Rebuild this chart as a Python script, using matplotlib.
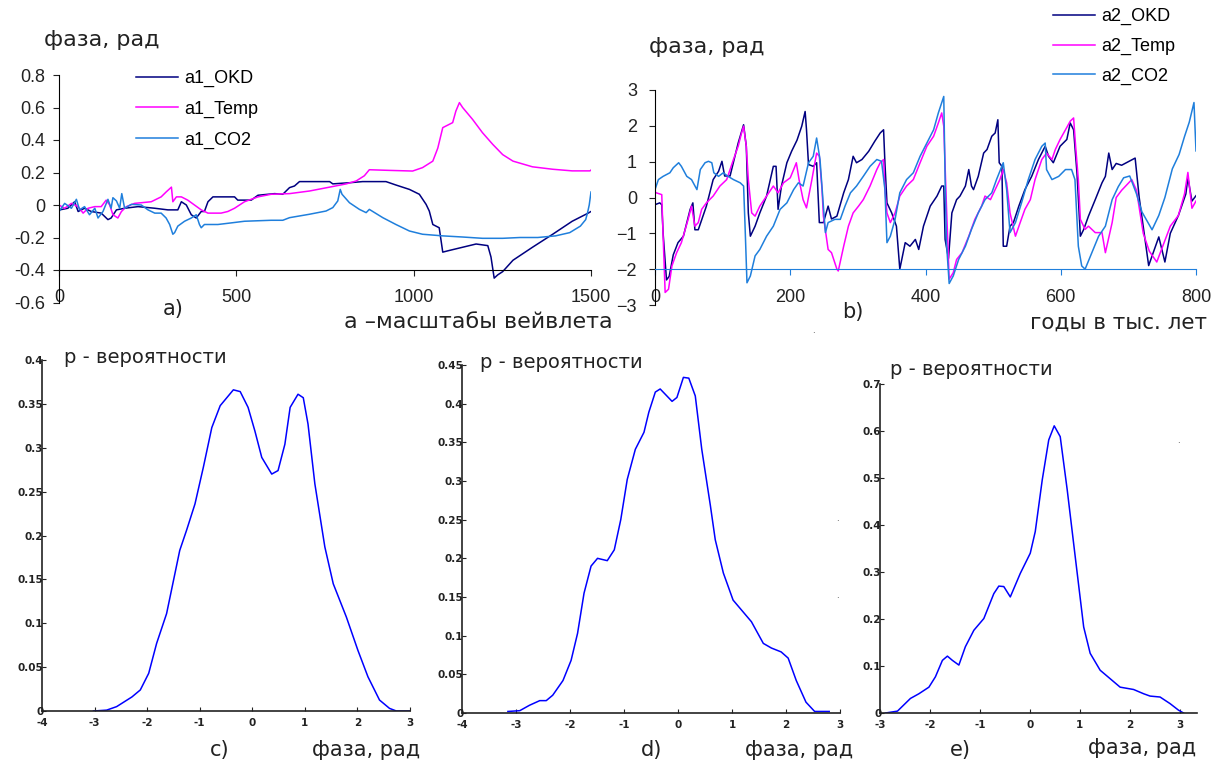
import matplotlib
matplotlib.use("Agg")
import matplotlib.pyplot as plt

# ---- panel a: phase vs wavelet scale ----
a_okd_x = [0, 2, 25, 44, 54, 72, 91, 119, 138, 147, 162, 185, 223, 270, 307, 335, 345, 359, 373, 387,
           401, 410, 420, 434, 495, 504, 542, 561, 608, 631, 650, 664, 678, 763, 772, 819, 856, 922, 950,
           988, 1016, 1035, 1044, 1054, 1072, 1082, 1100, 1138, 1176, 1209, 1218, 1227, 1237, 1251, 1280,
           1335, 1392, 1447, 1492, 1500]
a_okd_y = [-0.03, -0.03, -0.02, 0.02, -0.04, -0.02, -0.04, -0.05, -0.09, -0.08, -0.03, -0.02, -0.01, -0.02,
           -0.03, -0.03, 0.02, 0.0, -0.06, -0.08, -0.04, -0.04, 0.02, 0.05, 0.05, 0.03, 0.03, 0.06, 0.07,
           0.066, 0.107, 0.117, 0.144, 0.144, 0.13, 0.137, 0.144, 0.144, 0.123, 0.096, 0.066, 0.004, -0.037,
           -0.12, -0.14, -0.29, -0.28, -0.26, -0.24, -0.25, -0.32, -0.45, -0.43, -0.41, -0.34, -0.26, -0.18,
           -0.1, -0.05, -0.04]

a_temp_x = [0, 16, 35, 54, 68, 82, 101, 119, 133, 143, 152, 166, 176, 190, 213, 260, 288, 302, 312, 317,
            321, 331, 345, 363, 382, 401, 420, 457, 476, 495, 523, 561, 598, 650, 706, 763, 810, 838, 861,
            875, 932, 997, 1025, 1054, 1068, 1082, 1091, 1110, 1119, 1129, 1138, 1166, 1194, 1223, 1251,
            1280, 1335, 1392, 1447, 1497, 1500]
a_temp_y = [0.0, -0.02, 0.01, -0.01, -0.05, -0.02, -0.01, -0.01, 0.03, 0.0, -0.06, -0.08, -0.04, -0.01,
            0.01, 0.02, 0.05, 0.08, 0.10, 0.11, 0.02, 0.05, 0.05, 0.03, 0.0, -0.03, -0.05, -0.05, -0.04,
            -0.02, 0.02, 0.05, 0.066, 0.07, 0.086, 0.11, 0.13, 0.148, 0.18, 0.217, 0.213, 0.209, 0.23, 0.27,
            0.35, 0.476, 0.486, 0.507, 0.578, 0.63, 0.6, 0.527, 0.445, 0.373, 0.31, 0.27, 0.235, 0.22,
            0.21, 0.21, 0.215]

a_co2_x = [0, 16, 35, 49, 58, 72, 86, 101, 110, 124, 138, 147, 152, 162, 171, 177, 185, 204, 232, 251,
           270, 288, 302, 312, 321, 326, 335, 354, 373, 387, 396, 401, 410, 448, 486, 523, 598, 631, 650,
           706, 753, 772, 786, 793, 798, 819, 847, 866, 875, 913, 950, 988, 1025, 1082, 1138, 1194, 1251,
           1300, 1350, 1400, 1440, 1470, 1485, 1490, 1495, 1500]
a_co2_y = [-0.04, 0.01, -0.02, 0.035, -0.03, -0.01, -0.06, -0.02, -0.08, -0.04, 0.035, -0.02, 0.045, 0.025,
           -0.02, 0.07, -0.02, 0.004, 0.0, -0.03, -0.05, -0.05, -0.08, -0.12, -0.18, -0.17, -0.13, -0.1,
           -0.08, -0.06, -0.12, -0.14, -0.12, -0.12, -0.11, -0.1, -0.094, -0.094, -0.078, -0.057, -0.037,
           -0.016, 0.025, 0.096, 0.066, 0.014, -0.027, -0.047, -0.027, -0.078, -0.12, -0.16, -0.18, -0.19,
           -0.197, -0.205, -0.205, -0.2, -0.2, -0.19, -0.17, -0.13, -0.09, -0.05, 0.0, 0.08]

# ---- panel b: phase vs time (thousand years) ----
b_okd_x = [0, 7, 10, 12, 17, 21, 27, 34, 42, 52, 56, 59, 64, 76, 86, 94, 99, 103, 111, 123, 131, 135, 138,
           141, 148, 155, 165, 175, 179, 182, 187, 195, 202, 210, 217, 222, 224, 227, 234, 239, 243, 249,
           256, 261, 269, 279, 286, 293, 298, 306, 316, 325, 333, 338, 340, 343, 350, 357, 362, 370, 377,
           385, 390, 397, 407, 417, 424, 427, 429, 434, 439, 446, 451, 459, 464, 468, 471, 478, 486, 491,
           498, 503, 507, 509, 513, 515, 520, 525, 530, 538, 547, 557, 567, 577, 582, 589, 599, 609, 614,
           619, 624, 629, 634, 641, 651, 661, 666, 671, 676, 682, 690, 700, 710, 716, 730, 745, 754, 762,
           774, 785, 788, 794, 800]
b_okd_y = [-0.2, -0.15, -0.2, -1.0, -2.3, -2.2, -1.6, -1.26, -1.08, -0.33, -0.15, -0.9, -0.9, -0.24, 0.5,
           0.73, 1.01, 0.6, 0.6, 1.52, 2.03, 1.43, -0.43, -1.08, -0.8, -0.43, 0.04, 0.87, 0.87, -0.33, 0.32,
           0.97, 1.29, 1.6, 1.99, 2.4, 1.9, 0.92, 0.87, 0.97, -0.7, -0.7, -0.24, -0.6, -0.52, 0.13, 0.5,
           1.15, 0.97, 1.06, 1.29, 1.57, 1.8, 1.89, 0.97, -0.15, -0.43, -0.8, -2.0, -1.26, -1.36, -1.17,
           -1.45, -0.8, -0.24, 0.04, 0.32, 0.32, -1.17, -1.7, -0.43, -0.06, 0.04, 0.32, 0.78, 0.32, 0.22,
           0.59, 1.24, 1.34, 1.71, 1.8, 2.17, 0.97, 0.87, -1.36, -1.36, -0.8, -0.7, -0.24, 0.22, 0.59, 1.06,
           1.43, 1.15, 0.97, 1.43, 1.62, 2.08, 1.89, 0.68, -1.08, -0.89, -0.52, -0.06, 0.41, 0.59, 1.24,
           0.78, 0.95, 0.9, 1.0, 1.1, 0.0, -1.9, -1.1, -1.8, -1.0, -0.5, 0.1, 0.55, -0.1, 0.05]

b_temp_x = [0, 2, 10, 12, 15, 20, 25, 32, 39, 49, 54, 59, 64, 69, 76, 86, 96, 106, 116, 123, 128, 131, 135,
            138, 143, 148, 155, 165, 175, 182, 190, 200, 205, 209, 213, 219, 224, 232, 239, 243, 247, 249,
            256, 261, 269, 271, 279, 286, 293, 301, 308, 318, 328, 333, 338, 340, 343, 348, 355, 362, 372,
            382, 392, 402, 412, 419, 424, 427, 431, 435, 441, 446, 454, 464, 473, 483, 488, 496, 503, 510,
            515, 520, 525, 533, 540, 547, 555, 562, 572, 579, 587, 592, 599, 607, 614, 619, 622, 626, 629,
            636, 641, 651, 661, 666, 676, 682, 690, 705, 712, 722, 731, 742, 754, 762, 774, 783, 788, 794,
            800]
b_temp_y = [0.15, 0.13, 0.08, -1.08, -2.65, -2.56, -1.91, -1.54, -1.26, -0.61, -0.24, -0.8, -0.7, -0.33,
            -0.15, 0.04, 0.32, 0.5, 1.06, 1.43, 1.8, 1.99, 1.43, 0.5, -0.43, -0.52, -0.24, 0.04, 0.32, 0.13,
            0.41, 0.55, 0.78, 0.97, 0.5, -0.06, -0.29, 0.5, 1.24, 1.15, 0.22, -0.52, -1.45, -1.54, -2.0,
            -2.05, -1.36, -0.8, -0.43, -0.24, -0.06, 0.32, 0.78, 0.97, 1.06, 0.22, -0.43, -0.7, -0.43, 0.04,
            0.32, 0.5, 0.97, 1.43, 1.71, 2.08, 2.36, 1.99, -0.24, -2.28, -2.1, -1.73, -1.54, -1.08, -0.61,
            -0.24, 0.04, -0.06, 0.22, 0.5, 0.78, 0.41, -0.43, -1.08, -0.7, -0.33, -0.06, 0.5, 1.06, 1.24,
            1.06, 1.34, 1.62, 1.89, 2.13, 2.22, 1.43, 0.5, -0.61, -0.89, -0.8, -0.98, -0.98, -1.54, -0.7,
            0.0, 0.2, 0.5, 0.2, -1.0, -1.5, -1.8, -1.2, -0.8, -0.5, 0.1, 0.7, -0.3, -0.1]

b_co2_x = [0, 5, 12, 22, 27, 35, 39, 47, 54, 62, 67, 74, 79, 84, 87, 94, 101, 108, 116, 126, 131, 133, 136,
           141, 148, 155, 165, 175, 185, 195, 205, 212, 219, 227, 234, 239, 244, 249, 252, 256, 266, 274,
           281, 289, 298, 308, 318, 328, 335, 340, 343, 348, 355, 362, 372, 382, 392, 402, 412, 419, 427,
           429, 431, 435, 441, 449, 459, 468, 478, 488, 498, 505, 515, 520, 525, 533, 542, 552, 562, 572,
           577, 579, 587, 597, 607, 616, 621, 626, 631, 636, 646, 656, 666, 676, 685, 693, 702, 712, 720,
           735, 745, 754, 765, 775, 783, 790, 797, 800]
b_co2_y = [0.22, 0.5, 0.59, 0.69, 0.83, 0.97, 0.87, 0.59, 0.5, 0.22, 0.78, 0.97, 1.01, 0.97, 0.69, 0.59,
           0.69, 0.59, 0.5, 0.41, 0.32, -0.7, -2.38, -2.19, -1.63, -1.45, -1.08, -0.8, -0.33, -0.15, 0.22,
           0.41, 0.32, 0.97, 1.15, 1.66, 1.06, -0.24, -0.98, -0.7, -0.61, -0.61, -0.24, 0.13, 0.32, 0.59,
           0.87, 1.06, 1.01, 0.22, -1.26, -1.08, -0.61, 0.13, 0.5, 0.69, 1.15, 1.52, 1.89, 2.36, 2.82, 0.5,
           -1.26, -2.4, -2.19, -1.73, -1.36, -0.89, -0.43, -0.06, 0.13, 0.5, 0.97, 0.22, -0.98, -0.7, -0.15,
           0.5, 1.06, 1.43, 1.52, 0.78, 0.5, 0.59, 0.78, 0.78, 0.5, -1.36, -1.91, -2.0, -1.54, -1.08, -0.8,
           -0.06, 0.3, 0.55, 0.6, 0.1, -0.4, -0.9, -0.5, 0.0, 0.8, 1.2, 1.7, 2.1, 2.65, 1.3]

# ---- panels c, d, e: probability density of phase ----
c_x = [-3.02, -2.77, -2.58, -2.29, -2.13, -1.97, -1.82, -1.63, -1.38, -1.25, -1.09, -0.93, -0.77, -0.61,
       -0.36, -0.23, -0.08, 0.05, 0.18, 0.37, 0.49, 0.62, 0.72, 0.87, 0.97, 1.06, 1.19, 1.38, 1.54, 1.79,
       2.01, 2.2, 2.42, 2.61, 2.74, 2.99]
c_p = [0.0, 0.001, 0.005, 0.016, 0.024, 0.043, 0.077, 0.111, 0.183, 0.206, 0.236, 0.278, 0.323, 0.348,
       0.366, 0.364, 0.346, 0.319, 0.289, 0.27, 0.274, 0.304, 0.346, 0.361, 0.357, 0.327, 0.259, 0.187,
       0.145, 0.107, 0.069, 0.039, 0.0125, 0.003, 0.0, 0.0]

d_x = [-3.15, -2.93, -2.75, -2.56, -2.44, -2.32, -2.13, -1.98, -1.86, -1.74, -1.61, -1.49, -1.31, -1.18,
       -1.06, -0.94, -0.79, -0.63, -0.54, -0.42, -0.33, -0.11, -0.02, 0.1, 0.2, 0.32, 0.44, 0.6, 0.69,
       0.84, 1.02, 1.36, 1.58, 1.73, 1.91, 2.04, 2.19, 2.37, 2.53, 2.8]
d_p = [0.002, 0.003, 0.01, 0.016, 0.016, 0.023, 0.042, 0.068, 0.103, 0.155, 0.19, 0.2, 0.197, 0.211, 0.25,
       0.302, 0.341, 0.363, 0.389, 0.415, 0.419, 0.403, 0.408, 0.434, 0.433, 0.41, 0.341, 0.268, 0.224,
       0.181, 0.146, 0.118, 0.09, 0.084, 0.079, 0.071, 0.042, 0.014, 0.002, 0.002]

e_x = [-2.89, -2.65, -2.39, -2.22, -2.02, -1.89, -1.75, -1.65, -1.55, -1.42, -1.29, -1.12, -0.92, -0.72,
       -0.62, -0.52, -0.39, -0.19, 0.01, 0.11, 0.25, 0.38, 0.49, 0.61, 0.75, 0.91, 1.08, 1.21, 1.41, 1.61,
       1.81, 2.08, 2.28, 2.41, 2.61, 2.81, 2.98, 3.08]
e_p = [0.0, 0.004, 0.031, 0.041, 0.055, 0.077, 0.112, 0.121, 0.112, 0.102, 0.141, 0.176, 0.201, 0.254,
       0.27, 0.269, 0.247, 0.297, 0.34, 0.386, 0.496, 0.581, 0.611, 0.588, 0.475, 0.333, 0.183, 0.127,
       0.091, 0.073, 0.055, 0.05, 0.041, 0.036, 0.034, 0.02, 0.006, 0.0]

W, H = 1213, 763
C_OKD, C_TEMP, C_CO2 = '#000080', '#ff00ff', '#1f7fdc'
TXT = '#222222'


def box(l, t, r, b):
    return [l / W, 1 - b / H, (r - l) / W, (b - t) / H]


def label(x, y, s, size=15, ha='left'):
    fig.text(x / W, 1 - y / H, s, fontsize=size, ha=ha, va='center', color=TXT,
             family=['DejaVu Sans'])


plt.rcParams['font.family'] = ['Liberation Sans', 'DejaVu Sans']
fig = plt.figure(figsize=(W / 100, H / 100), dpi=100)

# Panel a
ax = fig.add_axes(box(59, 75, 591, 302.5))
ax.plot(a_okd_x, a_okd_y, color=C_OKD, lw=1.1, label='a1_OKD')
ax.plot(a_temp_x, a_temp_y, color=C_TEMP, lw=1.1, label='a1_Temp')
ax.plot(a_co2_x, a_co2_y, color=C_CO2, lw=1.1, label='a1_CO2')
ax.set_xlim(0, 1500)
ax.set_ylim(-0.6, 0.8)
ax.set_xticks([0, 500, 1000, 1500])
yt = [-0.6, -0.4, -0.2, 0, 0.2, 0.4, 0.6, 0.8]
ax.set_yticks(yt)
ax.set_yticklabels(['-0.6', '-0.4', '-0.2', '0', '0.2', '0.4', '0.6', '0.8'])
for s in ['top', 'right']:
    ax.spines[s].set_visible(False)
ax.spines['bottom'].set_position(('data', -0.4))
ax.tick_params(axis='x', labelsize=13, length=4, pad=10, colors='#222222')
ax.tick_params(axis='y', labelsize=13, length=4, pad=6, colors='#222222')
ax.legend(loc='upper left', bbox_to_anchor=(136 / W, 1 - 70 / H), bbox_transform=fig.transFigure,
          frameon=False, fontsize=13, handlelength=2.3, handletextpad=0.35, labelspacing=0.75,
          borderpad=0, borderaxespad=0)

# Panel b
ax = fig.add_axes(box(655, 90, 1196, 305))
ax.plot(b_okd_x, b_okd_y, color=C_OKD, lw=1.1, label='a2_OKD')
ax.plot(b_temp_x, b_temp_y, color=C_TEMP, lw=1.1, label='a2_Temp')
ax.plot(b_co2_x, b_co2_y, color=C_CO2, lw=1.1, label='a2_CO2')
ax.set_xlim(0, 800)
ax.set_ylim(-3, 3)
ax.set_xticks([0, 200, 400, 600, 800])
ax.set_yticks([-3, -2, -1, 0, 1, 2, 3])
for s in ['top', 'right']:
    ax.spines[s].set_visible(False)
ax.spines['bottom'].set_position(('data', -2))
ax.spines['bottom'].set_color(C_CO2)
ax.tick_params(axis='x', labelsize=13, length=4, pad=10, color=C_CO2, labelcolor='#222222')
ax.tick_params(axis='y', labelsize=13, length=4, pad=9, colors='#222222')
ax.legend(loc='upper left', bbox_to_anchor=(1053 / W, 1 - 8 / H), bbox_transform=fig.transFigure,
          frameon=False, fontsize=13, handlelength=2.3, handletextpad=0.35, labelspacing=0.7,
          borderpad=0, borderaxespad=0)

# Panels c, d, e
dens = [
    (box(42, 360, 410, 711), c_x, c_p, (-4, 3), 0.4, [-4, -3, -2, -1, 0, 1, 2, 3],
     [0, 0.05, 0.1, 0.15, 0.2, 0.25, 0.3, 0.35, 0.4]),
    (box(462, 365, 840, 713), d_x, d_p, (-4, 3), 0.45, [-4, -3, -2, -1, 0, 1, 2, 3],
     [0, 0.05, 0.1, 0.15, 0.2, 0.25, 0.3, 0.35, 0.4, 0.45]),
    (box(880, 384, 1197, 713), e_x, e_p, (-3, 3.35), 0.7, [-3, -2, -1, 0, 1, 2, 3],
     [0, 0.1, 0.2, 0.3, 0.4, 0.5, 0.6, 0.7]),
]
for pos, xs, ps, xl, ytop, xt, ytk in dens:
    ax = fig.add_axes(pos)
    ax.plot(xs, ps, color='#0000ff', lw=1.1)
    ax.set_xlim(*xl)
    ax.set_ylim(0, ytop)
    ax.set_xticks(xt)
    ax.set_xticklabels([str(v) for v in xt])
    ax.set_yticks(ytk)
    ax.set_yticklabels(['0'] + [('%g' % v) for v in ytk[1:]])
    for s in ['top', 'right']:
        ax.spines[s].set_visible(False)
    for s in ['left', 'bottom']:
        ax.spines[s].set_color('#222222')
        ax.spines[s].set_linewidth(1.2)
    ax.tick_params(direction='in', length=3, labelsize=7.5, colors='#222222')
    ax.tick_params(axis='y', pad=-1)
    ax.tick_params(axis='x', pad=5)
    for t in ax.get_xticklabels() + ax.get_yticklabels():
        t.set_fontweight('bold')
        t.set_family('DejaVu Sans')

# Texts
label(44, 40, 'фаза, рад', 16)
label(649, 47, 'фаза, рад', 16)
label(163, 309, 'a)', 15)
label(344, 322, 'a –масштабы вейвлета', 16)
label(842, 312, 'b)', 15)
label(1030, 323, 'годы в тыс. лет', 15.5)
label(64, 357, 'p - вероятности', 14)
label(480, 363, 'p - вероятности', 14)
label(890, 370, 'p - вероятности', 14)
label(210, 750, 'c)', 15)
label(312, 750, 'фаза, рад', 15)
label(641, 750, 'd)', 15)
label(745, 750, 'фаза, рад', 15)
label(950, 750, 'e)', 15)
label(1088, 748, 'фаза, рад', 15)

# small stray marks present in the source picture
for sx, sy in [(813, 330), (837, 518), (837, 595), (1178, 440)]:
    fig.text(sx / W, 1 - sy / H, '.', fontsize=7, color='#444444', ha='center', va='center')

fig.savefig('out.png', dpi=100, facecolor='white')
